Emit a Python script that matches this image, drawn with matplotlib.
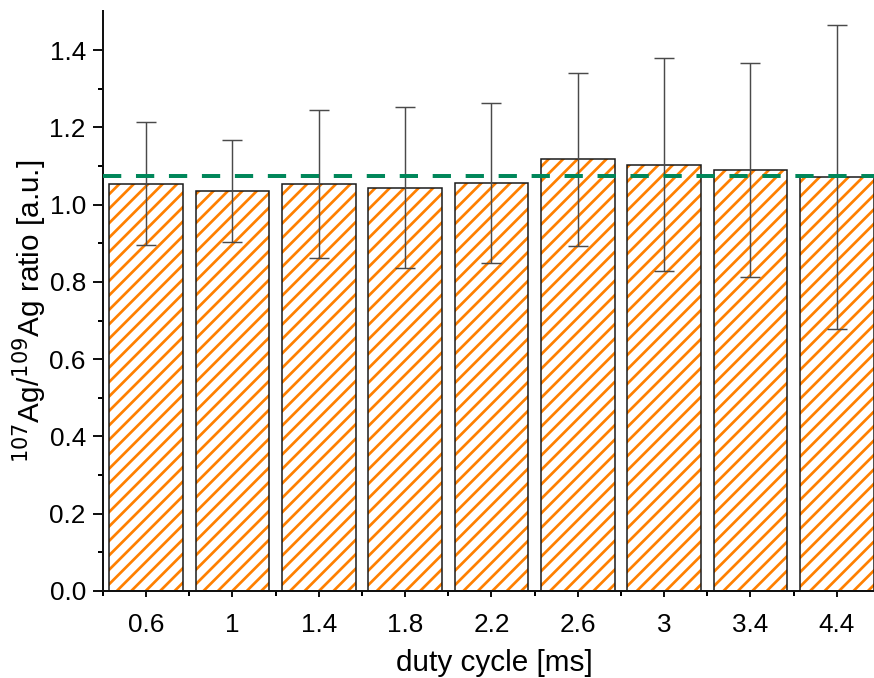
import matplotlib
matplotlib.use("Agg")
import matplotlib.pyplot as plt
import numpy as np

categories = ["0.6", "1", "1.4", "1.8", "2.2", "2.6", "3", "3.4", "4.4"]
ratio = [1.053, 1.036, 1.053, 1.044, 1.055, 1.118, 1.103, 1.090, 1.071]
err_hi = [1.213, 1.167, 1.244, 1.252, 1.262, 1.341, 1.379, 1.366, 1.464]
err_lo = [0.895, 0.904, 0.862, 0.837, 0.848, 0.893, 0.827, 0.813, 0.678]
reference = 1.075

plt.rcParams['font.family'] = ['Liberation Sans', 'DejaVu Sans']
plt.rcParams['hatch.linewidth'] = 1.5

DPI = 130
W, H = 874, 678
fig = plt.figure(figsize=(W / DPI, H / DPI), dpi=DPI)
left, right, bottom, top = 103, 880, 678 - 591, 678 - 11.4
ax = fig.add_axes([left / W, bottom / H, (right - left) / W, (top - bottom) / H])

x = np.arange(len(categories))
vals = np.array(ratio)
yerr = np.vstack([vals - np.array(err_lo), np.array(err_hi) - vals])

# hatch fill (orange), then black outline
hb = ax.bar(x, vals, width=0.85, facecolor='white', edgecolor='#FF8000',
            linewidth=0, hatch='///', zorder=2)
for p in hb:
    if hasattr(p, 'set_hatch_linewidth'):
        p.set_hatch_linewidth(1.5)
ax.bar(x, vals, width=0.85, fill=False, edgecolor='#1a1a1a',
       linewidth=0.85, zorder=2.5)
ax.errorbar(x, vals, yerr=yerr, fmt='none', ecolor='#4a4a4a', elinewidth=0.8,
            capsize=5.5, capthick=0.8, zorder=3)
ax.axhline(reference, color='#00875A', linewidth=2.2, dashes=(4.6, 3.7), zorder=4)

ax.set_xlim(-0.5, 8.5)
ax.set_ylim(0, 1.5)
ax.set_xticks(x)
ax.set_xticklabels(categories)
ax.set_xticks(np.arange(-0.5, 9, 1.0), minor=True)
ax.set_yticks(np.arange(0, 1.41, 0.2))
ax.set_yticklabels([f"{v:.1f}" for v in np.arange(0, 1.41, 0.2)])
ax.set_yticks(np.arange(0.1, 1.5, 0.2), minor=True)

for s in ['top', 'right']:
    ax.spines[s].set_visible(False)
for s in ['left', 'bottom']:
    ax.spines[s].set_linewidth(1.1)
    ax.spines[s].set_color('#111111')

ax.tick_params(axis='both', which='major', labelsize=14.5, width=1.1, direction='out', color='#111111')
ax.tick_params(axis='y', which='major', length=5.5, pad=4)
ax.tick_params(axis='y', which='minor', length=2.8, width=1.1)
ax.tick_params(axis='x', which='major', length=3.2, pad=9)
ax.tick_params(axis='x', which='minor', length=2.8, width=1.1)

ax.set_xlabel("duty cycle [ms]", fontsize=16.5)
ax.xaxis.set_label_coords((494 - left) / (right - left), -(671 - 591) / (591 - 11.4))
ax.xaxis.label.set_va('baseline')
ax.set_ylabel(r"$^{107}$Ag/$^{109}$Ag ratio [a.u.]", fontsize=16.5)
ax.yaxis.set_label_coords(-(103 - 49) / (right - left), (591 - 311) / (591 - 11.4))

fig.savefig("out.png", dpi=DPI)
